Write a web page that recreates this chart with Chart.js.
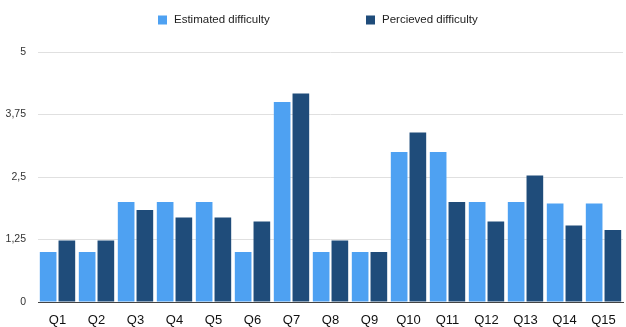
<!DOCTYPE html>
<html>
<head>
<meta charset="utf-8">
<script src="https://cdn.jsdelivr.net/npm/chart.js@4"></script>
<style>
  html, body { margin: 0; padding: 0; background: #fff; }
  #wrap { width: 626px; height: 327px; }
</style>
</head>
<body>
<div id="wrap"><canvas id="myChart" width="626" height="327"></canvas></div>
<script>
const questions = ['Q1','Q2','Q3','Q4','Q5','Q6','Q7','Q8','Q9','Q10','Q11','Q12','Q13','Q14','Q15'];
const estimated = [1, 1, 2, 2, 2, 1, 4, 1, 1, 3, 3, 2, 2, 1.97, 1.97];
const perceived = [1.23, 1.23, 1.84, 1.69, 1.69, 1.61, 4.17, 1.23, 1, 3.39, 2, 1.61, 2.53, 1.53, 1.44];
const yTicks = [0, 1.25, 2.5, 3.75, 5];

const fontFamily = '"Liberation Sans", Arial, Helvetica, sans-serif';

// legend drawn by hand so the two items can sit far apart like the original
const spreadLegend = {
  id: 'spreadLegend',
  afterDraw(chart) {
    const ctx = chart.ctx;
    const starts = [158, 366];
    ctx.save();
    ctx.font = '11.5px ' + fontFamily;
    ctx.textBaseline = 'middle';
    chart.data.datasets.forEach((ds, i) => {
      ctx.fillStyle = ds.backgroundColor;
      ctx.fillRect(starts[i], 15.5, 9, 9);
      ctx.fillStyle = '#222';
      ctx.fillText(ds.label, starts[i] + 16, 20);
    });
    ctx.restore();
  }
};

document.addEventListener('DOMContentLoaded', function() {
  const ctx = document.getElementById('myChart').getContext('2d');
  new Chart(ctx, {
    type: 'bar',
    data: {
      labels: questions,
      datasets: [{
        label: 'Estimated difficulty',
        data: estimated,
        backgroundColor: '#4ea1f2'
      }, {
        label: 'Percieved difficulty',
        data: perceived,
        backgroundColor: '#1f4c7a'
      }]
    },
    options: {
      responsive: false,
      animation: false,
      barPercentage: 0.89,
      categoryPercentage: 0.96,
      layout: { padding: { top: 52, right: 3, left: 0, bottom: 0 } },
      plugins: {
        legend: { display: false },
        tooltip: { enabled: false }
      },
      scales: {
        x: {
          grid: { display: false },
          border: { display: true, color: '#444', width: 1 },
          ticks: { color: '#111', font: { family: fontFamily, size: 13 }, padding: 3, maxRotation: 0 },
          afterFit: function(axis) { axis.height = 25; }
        },
        y: {
          min: 0,
          max: 5,
          afterBuildTicks: function(axis) { axis.ticks = yTicks.map(v => ({ value: v })); },
          border: { display: false },
          grid: { color: '#e0e0e0', drawTicks: false },
          ticks: {
            color: '#333',
            padding: 12,
            font: { family: fontFamily, size: 10.5 },
            callback: function(value) { return String(value).replace('.', ','); }
          },
          afterFit: function(axis) { axis.width = 38; }
        }
      }
    },
    plugins: [spreadLegend]
  });
});
</script>
</body>
</html>
